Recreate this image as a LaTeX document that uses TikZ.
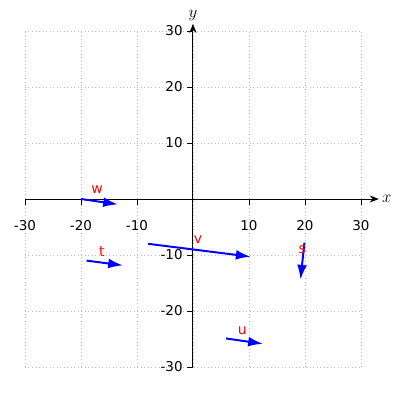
\documentclass[tikz,border=0pt]{standalone}
\usepackage{fontspec}
\setsansfont{DejaVu Sans}
\usetikzlibrary{arrows.meta}

\tikzset{
  vec/.style={blue,line width=1.4pt,-{Latex[length=10.5pt,width=7pt]}},
  veclabel/.style={red,font=\sffamily\fontsize{10}{12}\selectfont,inner sep=0pt},
  ticklabel/.style={font=\sffamily\fontsize{9.6}{12}\selectfont,inner sep=0pt}
}

\begin{document}
\begin{tikzpicture}[x=0.14cm,y=0.14cm]
\useasboundingbox (-34.46,-35.89) rectangle (36.96,35.54);
% grid
\foreach \g in {-30,-20,...,30} {
  \draw[gray!50,dotted,line width=0.5pt] (\g,-30)--(\g,30);
  \draw[gray!50,dotted,line width=0.5pt] (-30,\g)--(30,\g);
}
% axes
\draw[line width=0.7pt,-{Stealth[length=6.5pt,width=5pt]}] (-30,0)--(33.2,0) node[right,inner sep=2pt,font=\fontsize{12}{14}\selectfont] {$x$};
\draw[line width=0.7pt,-{Stealth[length=6.5pt,width=5pt]}] (0,-30)--(0,31.3) node[above,inner sep=1.5pt,font=\fontsize{12}{14}\selectfont] {$y$};
\foreach \t in {-30,-20,-10,10,20,30} {
  \draw[line width=0.6pt] (\t,0)--(\t,-1.1);
  \node[ticklabel] at (\t,-4.7) {\t};
  \draw[line width=0.6pt] (0,\t)--(-1.1,\t);
  \node[ticklabel,anchor=east] at (-1.8,\t) {\t};
}
% vectors
\coordinate (w0) at (-20,0);    \coordinate (w1) at (-13.4,-0.95);
\coordinate (v0) at (-8,-8);    \coordinate (v1) at (10.3,-10.3);
\coordinate (t0) at (-19,-11);  \coordinate (t1) at (-12.5,-11.85);
\coordinate (s0) at (19.9,-7.8); \coordinate (s1) at (19.2,-14.4);
\coordinate (u0) at (5.9,-24.9); \coordinate (u1) at (12.5,-25.85);
\draw[vec] (w0)--(w1);
\draw[vec] (v0)--(v1);
\draw[vec] (t0)--(t1);
\draw[vec] (s0)--(s1);
\draw[vec] (u0)--(u1);
\node[veclabel] (wl) at (-17.1,1.6) {w};
\node[veclabel] (vl) at (0.9,-7.2) {v};
\node[veclabel] (tl) at (-16.25,-9.4) {t};
\node[veclabel] (sl) at (19.5,-9.0) {s};
\node[veclabel] (ul) at (8.8,-23.5) {u};
\end{tikzpicture}
\end{document}
